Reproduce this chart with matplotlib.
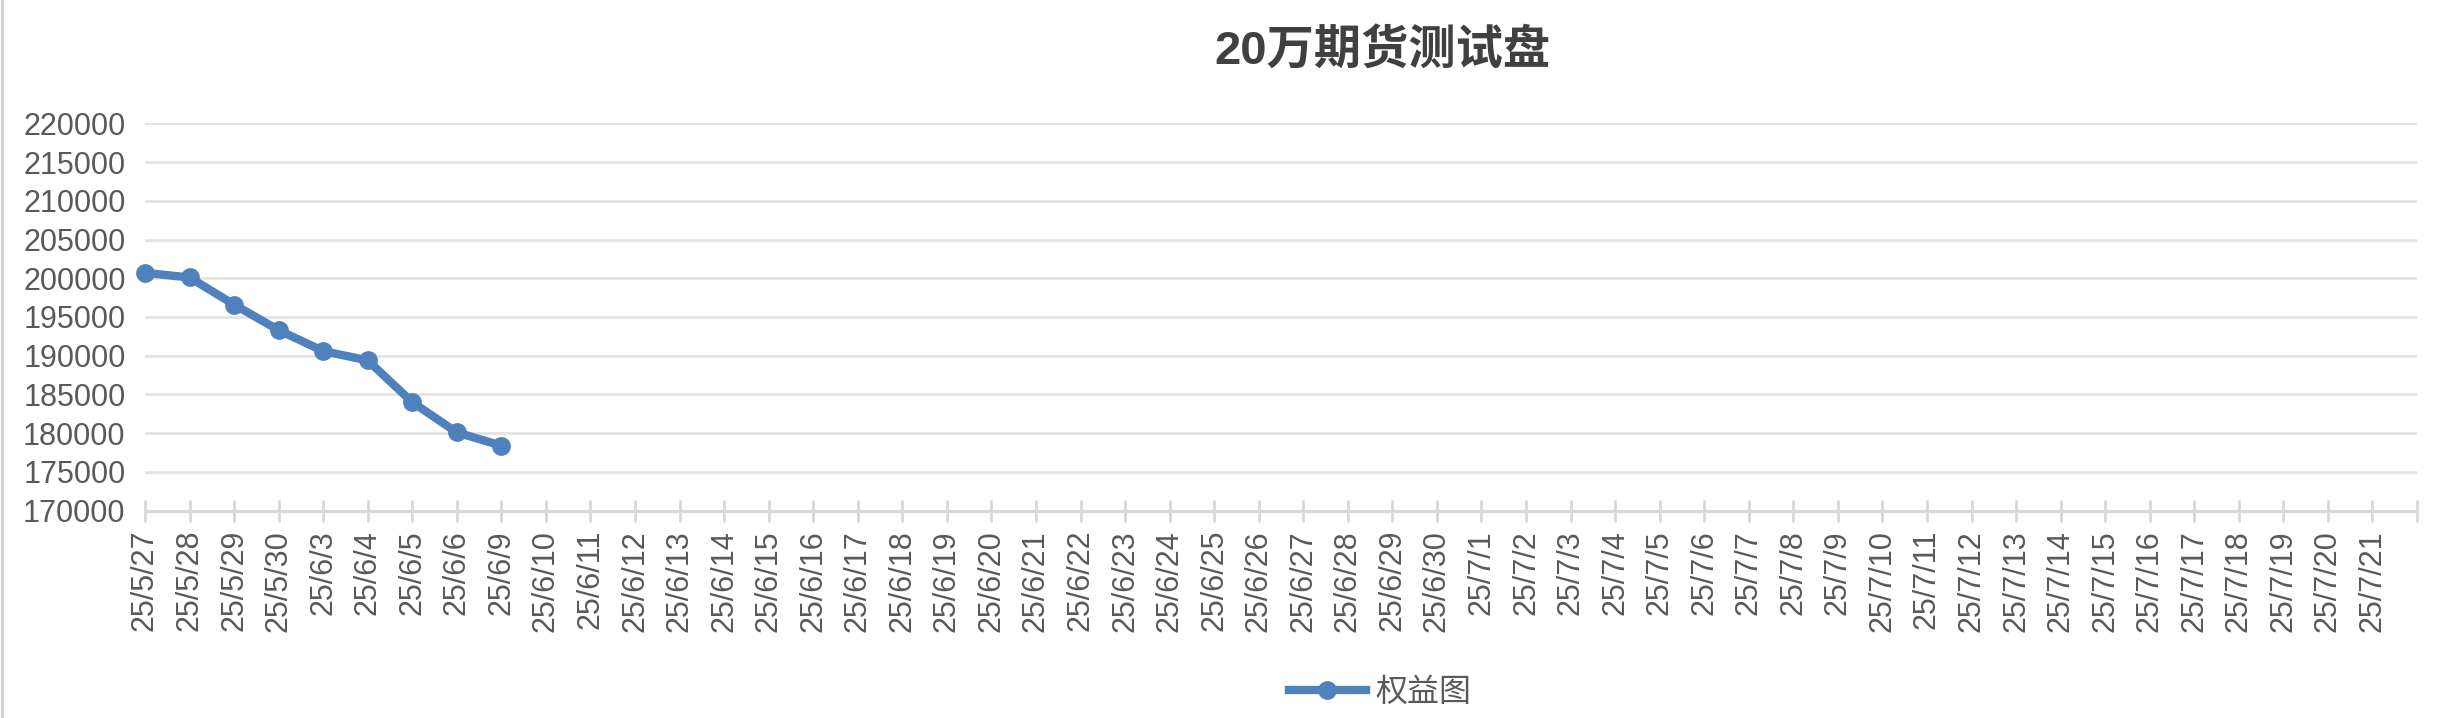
import matplotlib.pyplot as plt
from matplotlib.lines import Line2D

plt.rcParams['font.family'] = ['Liberation Sans', 'Noto Sans CJK SC', 'DejaVu Sans']

# category labels (trading days) and equity values
dates = ["25/5/27", "25/5/28", "25/5/29", "25/5/30",
         "25/6/3", "25/6/4", "25/6/5", "25/6/6", "25/6/9", "25/6/10",
         "25/6/11", "25/6/12", "25/6/13", "25/6/14", "25/6/15", "25/6/16",
         "25/6/17", "25/6/18", "25/6/19", "25/6/20", "25/6/21", "25/6/22",
         "25/6/23", "25/6/24", "25/6/25", "25/6/26", "25/6/27", "25/6/28",
         "25/6/29", "25/6/30",
         "25/7/1", "25/7/2", "25/7/3", "25/7/4", "25/7/5", "25/7/6", "25/7/7",
         "25/7/8", "25/7/9", "25/7/10", "25/7/11", "25/7/12", "25/7/13",
         "25/7/14", "25/7/15", "25/7/16", "25/7/17", "25/7/18", "25/7/19",
         "25/7/20", "25/7/21", ""]
equity = [200700, 200100, 196600, 193300, 190600, 189400, 184000, 180100, 178400]

y_ticks = list(range(170000, 220001, 5000))

blue = "#4f81bd"
grey_text = "#595959"
grid_col = "#e3e3e3"
axis_col = "#d9d9d9"

fig = plt.figure(figsize=(24.48, 7.18), dpi=100)
ax = fig.add_axes([145 / 2448, 1 - 510.7 / 718, (2417 - 145) / 2448, (510.7 - 123.3) / 718])

x = list(range(len(equity)))
ax.plot(x, equity, color=blue, linewidth=6, marker="o", markersize=12.5,
        solid_capstyle="round", zorder=3, clip_on=False)

ax.set_xlim(0, len(dates) - 1)
ax.set_ylim(170000, 220000)
ax.set_yticks(y_ticks)
ax.set_yticklabels([str(v) for v in y_ticks])
ax.set_xticks(range(len(dates)))
ax.set_xticklabels(dates, rotation=90)

for s in ["top", "right", "left"]:
    ax.spines[s].set_visible(False)
ax.spines["bottom"].set_color(axis_col)
ax.spines["bottom"].set_linewidth(2.2)

ax.yaxis.grid(True, color=grid_col, linewidth=2)
ax.set_axisbelow(True)
ax.tick_params(axis="y", length=0, pad=14, labelsize=22, labelcolor=grey_text)
ax.tick_params(axis="x", direction="inout", length=16.5, width=2, color=axis_col,
               pad=5.6, labelsize=22, labelcolor=grey_text)

fig.text(1382 / 2448, 1 - 51 / 718, "20万期货测试盘", ha="center", va="center",
         fontsize=34, fontweight="bold", color="#404040",
         family=['Liberation Sans', 'Noto Sans CJK SC'])

handle = Line2D([], [], color=blue, linewidth=6, marker="o", markersize=12.5)
leg = fig.legend([handle], ["权益图"], loc="center", bbox_to_anchor=(1380 / 2448, 1 - 692 / 718),
                 frameon=False, handlelength=2.4, handletextpad=0.3,
                 prop={'family': ['Noto Sans CJK SC'], 'size': 23})
for t in leg.get_texts():
    t.set_color(grey_text)

# thin border line at the left edge of the chart area
fig.add_artist(Line2D([0.0008, 0.0008], [0, 1], color="#d0d0d0", linewidth=2, transform=fig.transFigure))

fig.savefig("out.png", dpi=100, facecolor="white")
